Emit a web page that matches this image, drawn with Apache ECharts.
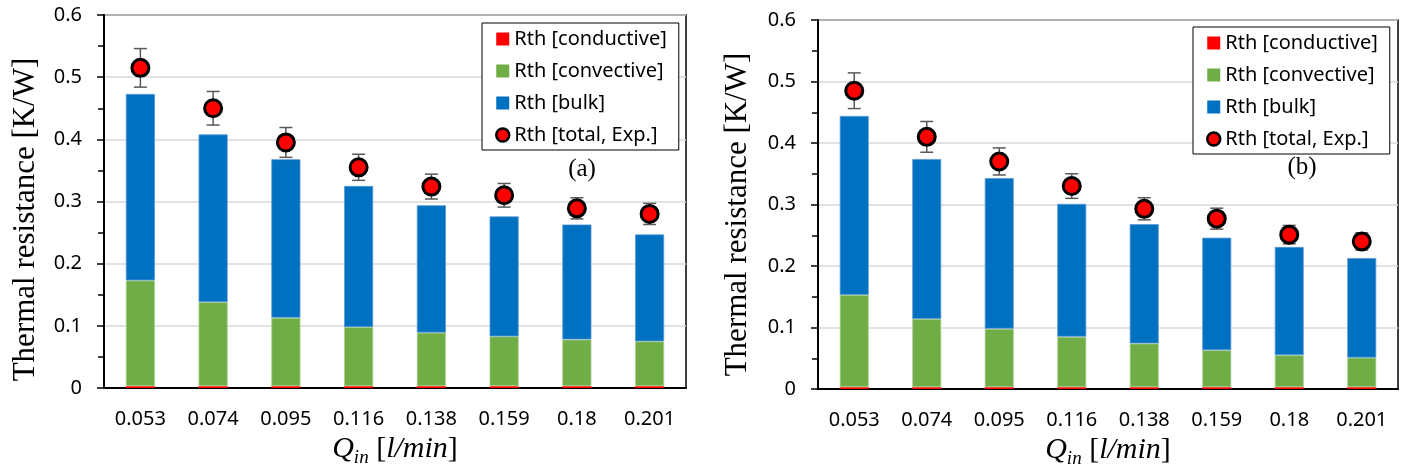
<!DOCTYPE html>
<html>
<head>
<meta charset="utf-8">
<script src="https://cdn.jsdelivr.net/npm/echarts@6/dist/echarts.min.js"></script>
<style>
  html, body { margin: 0; padding: 0; background: #ffffff; }
  #chart { width: 1410px; height: 475px; }
</style>
</head>
<body>
<div id="chart"></div>
<script>
// Inlet flow rates (category axis)
const flowRates = ['0.053', '0.074', '0.095', '0.116', '0.138', '0.159', '0.18', '0.201'];

// Panel (a): stacked thermal-resistance components [K/W]
const conductiveA = [0.003, 0.003, 0.003, 0.003, 0.003, 0.003, 0.003, 0.003];
const convectiveA = [0.170, 0.135, 0.110, 0.095, 0.086, 0.080, 0.075, 0.072];
const bulkA       = [0.300, 0.270, 0.255, 0.227, 0.205, 0.193, 0.185, 0.172];
const totalExpA   = [0.515, 0.450, 0.395, 0.355, 0.324, 0.310, 0.289, 0.280];
const errorA      = [0.031, 0.027, 0.024, 0.021, 0.020, 0.019, 0.017, 0.017];

// Panel (b)
const conductiveB = [0.003, 0.003, 0.003, 0.003, 0.003, 0.003, 0.003, 0.003];
const convectiveB = [0.150, 0.111, 0.095, 0.082, 0.071, 0.060, 0.052, 0.048];
const bulkB       = [0.291, 0.260, 0.245, 0.216, 0.194, 0.183, 0.176, 0.162];
const totalExpB   = [0.485, 0.410, 0.370, 0.330, 0.293, 0.277, 0.251, 0.240];
const errorB      = [0.029, 0.025, 0.022, 0.020, 0.018, 0.017, 0.015, 0.014];

const panelLabels = ['(a)', '(b)'];
const seriesNames = ['Rth [conductive]', 'Rth [convective]', 'Rth [bulk]', 'Rth [total, Exp.]'];
const colors = { conductive: '#ff0000', convective: '#70ad47', bulk: '#0070c0' };

const SANS = '"Noto Sans", "DejaVu Sans", sans-serif';
const SERIF = '"Liberation Serif", "DejaVu Serif", serif';

const chart = echarts.init(document.getElementById('chart'), null, { renderer: 'canvas' });

// vertical error bar with horizontal caps
function errorBarItem(params, api) {
  const x = api.value(0), v = api.value(1), e = api.value(2);
  const top = api.coord([x, v + e]);
  const bot = api.coord([x, v - e]);
  const hw = 6.5;
  const style = { stroke: '#595959', lineWidth: 1.5 };
  return {
    type: 'group',
    children: [
      { type: 'line', shape: { x1: top[0], y1: top[1], x2: bot[0], y2: bot[1] }, style },
      { type: 'line', shape: { x1: top[0] - hw, y1: top[1], x2: top[0] + hw, y2: top[1] }, style },
      { type: 'line', shape: { x1: bot[0] - hw, y1: bot[1], x2: bot[0] + hw, y2: bot[1] }, style }
    ]
  };
}

function xAxisFor(gridIndex) {
  return {
    type: 'category',
    gridIndex,
    data: flowRates,
    axisLine: { show: true, lineStyle: { color: '#000', width: 2 } },
    axisTick: { show: false },
    axisLabel: { color: '#000', fontFamily: SANS, fontSize: 20, margin: 21 },
    name: '{q|Q}{s|in}{r| [}{i|l/min}{r|]}',
    nameLocation: 'middle',
    nameGap: 43,
    nameTextStyle: {
      color: '#000',
      fontFamily: SERIF,
      fontSize: 30,
      rich: {
        q: { fontFamily: SERIF, fontStyle: 'italic', fontSize: 30, lineHeight: 36, verticalAlign: 'middle', color: '#000' },
        s: { fontFamily: SERIF, fontStyle: 'italic', fontSize: 19, lineHeight: 20, verticalAlign: 'bottom', color: '#000' },
        r: { fontFamily: SERIF, fontSize: 30, lineHeight: 36, verticalAlign: 'middle', color: '#000' },
        i: { fontFamily: SERIF, fontStyle: 'italic', fontSize: 30, lineHeight: 36, verticalAlign: 'middle', color: '#000' }
      }
    }
  };
}

function yAxisFor(gridIndex, nameGap, shift) {
  return {
    type: 'value',
    gridIndex,
    min: 0,
    max: 0.6,
    interval: 0.1,
    axisLine: { show: true, lineStyle: { color: '#000', width: 2 } },
    axisTick: { show: true, length: 7, lineStyle: { color: '#000', width: 1.5 } },
    minorTick: { show: true, splitNumber: 2, length: 6, lineStyle: { color: '#000', width: 1.5 } },
    axisLabel: { color: '#000', fontFamily: SANS, fontSize: 20, margin: 22 },
    splitLine: { show: true, lineStyle: { color: '#d9d9d9', width: 1.5 } },
    name: 'Thermal resistance [K/W]',
    nameLocation: 'middle',
    nameGap,
    nameTextStyle: { color: '#000', fontFamily: SERIF, fontSize: 31, padding: [0, shift * 2, 0, 0] }
  };
}

function seriesFor(idx, cond, conv, bulk, total, err) {
  const stack = 'rth' + idx;
  return [
    { name: seriesNames[0], type: 'bar', stack, xAxisIndex: idx, yAxisIndex: idx, barWidth: '40%',
      itemStyle: { color: colors.conductive }, data: cond },
    { name: seriesNames[1], type: 'bar', stack, xAxisIndex: idx, yAxisIndex: idx, barWidth: '40%',
      itemStyle: { color: colors.convective, borderColor: '#a9d18e', borderWidth: 0.8 }, data: conv },
    { name: seriesNames[2], type: 'bar', stack, xAxisIndex: idx, yAxisIndex: idx, barWidth: '40%',
      itemStyle: { color: colors.bulk, borderColor: '#5b9bd5', borderWidth: 0.8 }, data: bulk },
    { name: 'error' + idx, type: 'custom', xAxisIndex: idx, yAxisIndex: idx, z: 3,
      renderItem: errorBarItem, data: total.map((v, i) => [i, v, err[i]]), silent: true },
    { name: seriesNames[3], type: 'scatter', xAxisIndex: idx, yAxisIndex: idx, z: 4,
      symbol: 'circle', symbolSize: 17,
      itemStyle: { color: '#ff0000', borderColor: '#000', borderWidth: 3, opacity: 1 }, data: total }
  ];
}

function legendFor(left, top) {
  return {
    left, top,
    orient: 'vertical',
    selectedMode: false,
    backgroundColor: '#fff',
    borderColor: '#000',
    borderWidth: 1,
    borderRadius: 0,
    padding: [6, 12, 5, 13],
    itemWidth: 13,
    itemHeight: 13,
    itemGap: 12,
    textStyle: { color: '#000', fontFamily: SANS, fontSize: 20, lineHeight: 20 },
    data: [
      { name: seriesNames[0], icon: 'rect' },
      { name: seriesNames[1], icon: 'rect', itemStyle: { borderWidth: 0 } },
      { name: seriesNames[2], icon: 'rect', itemStyle: { borderWidth: 0 } },
      { name: seriesNames[3], icon: 'circle', itemStyle: { color: '#ff0000', borderColor: '#000', borderWidth: 2.5 } }
    ]
  };
}

chart.setOption({
  animation: false,
  backgroundColor: '#fff',
  grid: [
    { left: 104, right: 724, top: 15, bottom: 87, show: true, borderColor: '#000', borderWidth: 1.5, backgroundColor: 'transparent' },
    { left: 818, right: 12, top: 20, bottom: 86, show: true, borderColor: '#000', borderWidth: 1.5, backgroundColor: 'transparent' }
  ],
  xAxis: [xAxisFor(0), xAxisFor(1)],
  yAxis: [yAxisFor(0, 63, 18), yAxisFor(1, 65, 10)],
  legend: [legendFor(482, 23), legendFor(1193, 27)],
  graphic: [
    { type: 'text', x: 582, y: 169, style: { text: panelLabels[0], font: '25px ' + SERIF, fill: '#000', align: 'center', verticalAlign: 'middle' } },
    { type: 'text', x: 1302, y: 167, style: { text: panelLabels[1], font: '25px ' + SERIF, fill: '#000', align: 'center', verticalAlign: 'middle' } }
  ],
  series: [
    ...seriesFor(0, conductiveA, convectiveA, bulkA, totalExpA, errorA),
    ...seriesFor(1, conductiveB, convectiveB, bulkB, totalExpB, errorB)
  ]
});
</script>
</body>
</html>
